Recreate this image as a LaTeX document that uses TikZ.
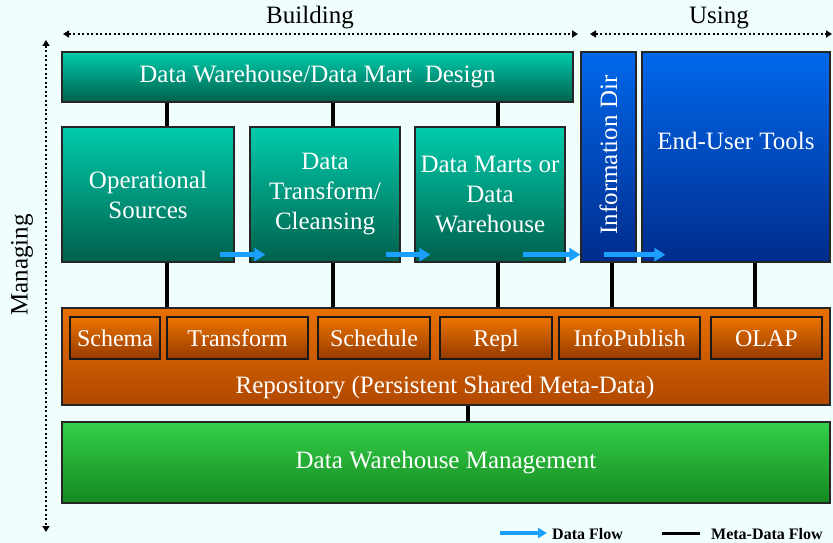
\documentclass[tikz,border=0pt]{standalone}
\usepackage{fontspec}
\setmainfont{Liberation Serif}
\usetikzlibrary{arrows.meta,calc}
\definecolor{bg}{RGB}{240,254,254}
\definecolor{tealtop}{RGB}{0,204,172}
\definecolor{tealbot}{RGB}{0,96,76}
\definecolor{bluetop}{RGB}{0,104,236}
\definecolor{bluebot}{RGB}{0,44,140}
\definecolor{orgtop}{RGB}{232,112,0}
\definecolor{orgbot}{RGB}{176,72,0}
\definecolor{inntop}{RGB}{236,116,0}
\definecolor{innbot}{RGB}{150,58,0}
\definecolor{grntop}{RGB}{52,208,72}
\definecolor{grnbot}{RGB}{20,136,32}
\definecolor{flow}{RGB}{28,160,255}
\tikzset{
  boxbase/.style={draw=black!85, line width=1.3pt, inner sep=0pt, align=center,
    text=white, font=\fontsize{25}{30}\selectfont},
  tealbox/.style={boxbase, top color=tealtop, bottom color=tealbot},
  bluebox/.style={boxbase, top color=bluetop, bottom color=bluebot},
  orgbox/.style={boxbase, top color=orgtop, bottom color=orgbot},
  innbox/.style={boxbase, top color=inntop, bottom color=innbot, line width=1.5pt, draw=black!90,
    text height=19pt, text depth=2pt, font=\fontsize{24}{30}\selectfont},
  grnbox/.style={boxbase, top color=grntop, bottom color=grnbot},
  boxtext/.style={text=white, inner sep=0pt, font=\fontsize{25}{30}\selectfont},
  meta/.style={draw=black, line width=3.5pt},
  dataflow/.style={draw=flow, line width=4.5pt, -{Triangle[length=11pt,width=13pt]}},
  dotarrow/.style={draw=black, line width=1.6pt, dash pattern=on 2pt off 2.5pt,
    {Triangle[length=6pt,width=7pt]}-{Triangle[length=6pt,width=7pt]}},
  phase/.style={text=black, inner sep=0pt, font=\fontsize{25}{30}\selectfont},
  legtext/.style={text=black, inner sep=0pt, anchor=west, font=\fontsize{16}{18}\selectfont\bfseries}
}
\begin{document}
\begin{tikzpicture}[x=1pt,y=-1pt]
\fill[bg] (0,0) rectangle (833,543);
\useasboundingbox (0,0) rectangle (833,543);

% phase labels and dotted arrows
\node[phase] (building) at (310,18) {Building};
\node[phase] (using) at (719,18) {Using};
\node[phase, rotate=90] (managing) at (22,265) {Managing};
\coordinate (b1) at (63,34);
\coordinate (b2) at (578,34);
\coordinate (u1) at (590,34);
\coordinate (u2) at (832,34);
\coordinate (m1) at (46,40);
\coordinate (m2) at (46,532);
\draw[dotarrow] (b1) -- (b2);
\draw[dotarrow] (u1) -- (u2);
\draw[dotarrow] (m1) -- (m2);

% connector x positions
\coordinate (xa) at (167,0);
\coordinate (xb) at (333,0);
\coordinate (xc) at (498,0);
\coordinate (xd) at (612,0);
\coordinate (xe) at (755,0);
\coordinate (xf) at (468,0);

% top row
\node[tealbox, minimum width=511pt, minimum height=50pt] (design) at (317.5,77) {Data Warehouse/Data Mart\ \ Design};
\node[tealbox, minimum width=172pt, minimum height=135pt] (ops) at (148,194.5) {Operational\\Sources};
\node[tealbox, minimum width=150pt, minimum height=135pt] (trans) at (325,194.5) {Data\\Transform/\\Cleansing};
\node[tealbox, minimum width=150pt, minimum height=135pt] (marts) at (490,194.5) {Data Marts or\\Data\\Warehouse};
\node[bluebox, minimum width=55pt, minimum height=210pt] (infodir) at (608.5,157) {};
\node[boxtext, rotate=90] (infodirtxt) at (608.5,155) {Information Dir};
\node[bluebox, minimum width=188pt, minimum height=210pt] (eut) at (736,157) {};
\node[boxtext] (euttxt) at (736,141) {End-User Tools};

% repository
\node[orgbox, minimum width=768pt, minimum height=97pt] (repo) at (446,356.5) {};
\node[boxtext] (repotxt) at (445,388) {Repository (Persistent Shared Meta-Data)};
\node[innbox, minimum width=90pt, minimum height=42pt] (schema) at (115,338) {Schema};
\node[innbox, minimum width=141pt, minimum height=42pt] (transform) at (237.5,338) {Transform};
\node[innbox, minimum width=112pt, minimum height=42pt] (schedule) at (374,338) {Schedule};
\node[innbox, minimum width=112pt, minimum height=42pt] (repl) at (496,338) {Repl};
\node[innbox, minimum width=141pt, minimum height=42pt] (infopub) at (629.5,338) {InfoPublish};
\node[innbox, minimum width=111pt, minimum height=42pt] (olap) at (766.5,338) {OLAP};

% management
\node[grnbox, minimum width=768pt, minimum height=81pt] (mgmt) at (446,462.5) {Data Warehouse Management};

% meta-data connectors
\draw[meta] (design.south -| xa) -- (ops.north -| xa);
\draw[meta] (design.south -| xb) -- (trans.north -| xb);
\draw[meta] (design.south -| xc) -- (marts.north -| xc);
\draw[meta] (ops.south -| xa) -- (repo.north -| xa);
\draw[meta] (trans.south -| xb) -- (repo.north -| xb);
\draw[meta] (marts.south -| xc) -- (repo.north -| xc);
\draw[meta] (infodir.south -| xd) -- (repo.north -| xd);
\draw[meta] (eut.south -| xe) -- (repo.north -| xe);
\draw[meta] (repo.south -| xf) -- (mgmt.north -| xf);

% data flow arrows
\draw[dataflow] ($(ops.south east)+(-15,-8)$) -- ($(trans.south west)+(16,-8)$);
\draw[dataflow] ($(trans.south east)+(-15,-8)$) -- ($(marts.south west)+(16,-8)$);
\draw[dataflow] ($(marts.south east)+(-43,-8)$) -- ($(infodir.south west)+(0,-8)$);
\draw[dataflow] ($(infodir.south west)+(24,-8)$) -- ($(eut.south west)+(24,-8)$);

% legend
\coordinate (l1) at (500,533);
\coordinate (l2) at (547,533);
\coordinate (l3) at (662,533);
\coordinate (l4) at (700,533);
\draw[dataflow, line width=3.5pt, -{Triangle[length=9pt,width=10pt]}] (l1) -- (l2);
\node[legtext] (ldf) at (552,534) {Data Flow};
\draw[meta, line width=3pt] (l3) -- (l4);
\node[legtext] (lmf) at (711,534) {Meta-Data Flow};
\end{tikzpicture}
\end{document}
